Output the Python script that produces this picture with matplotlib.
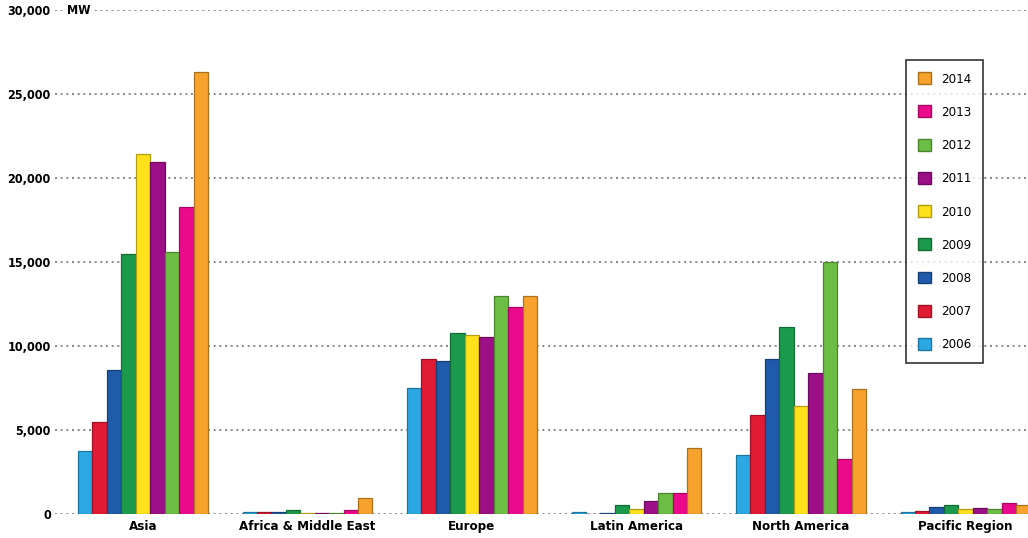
import matplotlib
matplotlib.use("Agg")
import matplotlib.pyplot as plt
import matplotlib.colors as mcolors
from matplotlib import font_manager as fm
import numpy as np
from matplotlib.patches import Patch

regions = ["Asia", "Africa & Middle East", "Europe", "Latin America", "North America", "Pacific Region"]
years = ["2006", "2007", "2008", "2009", "2010", "2011", "2012", "2013", "2014"]

v2006 = [3750, 130, 7500, 100, 3500, 100]
v2007 = [5450, 130, 9250, 30, 5900, 170]
v2008 = [8550, 100, 9100, 80, 9200, 430]
v2009 = [15450, 230, 10800, 550, 11150, 530]
v2010 = [21450, 50, 10650, 320, 6400, 280]
v2011 = [20950, 80, 10550, 800, 8400, 340]
v2012 = [15600, 60, 12950, 1280, 15000, 320]
v2013 = [18250, 230, 12350, 1280, 3300, 660]
v2014 = [26300, 960, 12950, 3900, 7450, 550]
series = [v2006, v2007, v2008, v2009, v2010, v2011, v2012, v2013, v2014]

colors = ["#2BA8E3", "#E21B35", "#1F5BAA", "#1B9A4B", "#FFE11B",
          "#9C0F86", "#6DBE45", "#EC0A8C", "#F6A22C"]

yticks = [0, 5000, 10000, 15000, 20000, 25000, 30000]
ytick_labels = ["0", "5,000", "10,000", "15,000", "20,000", "25,000", "30,000"]

plt.rcParams['font.family'] = ['DejaVu Sans']

def fp(size, bold=True):
    target = 'DejaVuSansCondensed-Bold.ttf' if bold else 'DejaVuSansCondensed.ttf'
    for f in fm.fontManager.ttflist:
        if f.fname.endswith(target):
            return fm.FontProperties(fname=f.fname, size=size)
    return fm.FontProperties(family='DejaVu Sans', weight='bold' if bold else 'normal',
                             stretch='condensed', size=size)

fig = plt.figure(figsize=(10.28, 5.38), dpi=100)
ax = fig.add_axes([0.0535, 0.0446, 0.9465, 0.9368])

n = len(series)
group_w = 0.79
bw = group_w / n
x = np.arange(len(regions))

def darker(c, f=0.7):
    r, g, b = mcolors.to_rgb(c)
    return (r * f, g * f, b * f)

for i, (vals, c) in enumerate(zip(series, colors)):
    offs = (i - (n - 1) / 2) * bw
    ax.bar(x + offs, vals, width=bw, color=c, edgecolor=darker(c), linewidth=0.9, zorder=3)

ax.set_xlim(-0.535, 5.38)
ax.set_ylim(0, 30000)
ax.set_yticks(yticks)
ax.set_yticklabels(ytick_labels)
ax.set_xticks(x)
ax.set_xticklabels(regions)
for t in ax.get_yticklabels():
    t.set_fontproperties(fp(9))
for t in ax.get_xticklabels():
    t.set_fontproperties(fp(9.5))
ax.tick_params(axis='both', length=0, pad=3)
ax.tick_params(axis='x', pad=4)
for s in ax.spines.values():
    s.set_visible(False)
ax.yaxis.grid(True, linestyle=(0, (1.2, 2.2)), color='#777777', linewidth=1.2, zorder=0)
ax.set_axisbelow(True)

ax.text(0.012, 30000, "MW", transform=ax.get_yaxis_transform(), fontproperties=fp(9),
        va='center', ha='left',
        bbox=dict(facecolor='white', edgecolor='none', pad=2), zorder=5)

handles = [Patch(facecolor=c, edgecolor=darker(c), label=y) for y, c in zip(years, colors)][::-1]
leg = ax.legend(handles=handles, loc='upper left', bbox_to_anchor=(0.875, 0.90),
                frameon=True, fancybox=False, edgecolor='black', prop=fp(9.5, bold=False),
                handlelength=1.0, handleheight=1.0, labelspacing=1.5,
                borderpad=0.9, handletextpad=0.7, borderaxespad=0)
leg.get_frame().set_linewidth(1.2)
leg.set_zorder(6)

fig.savefig("out.png", dpi=100, facecolor='white')
